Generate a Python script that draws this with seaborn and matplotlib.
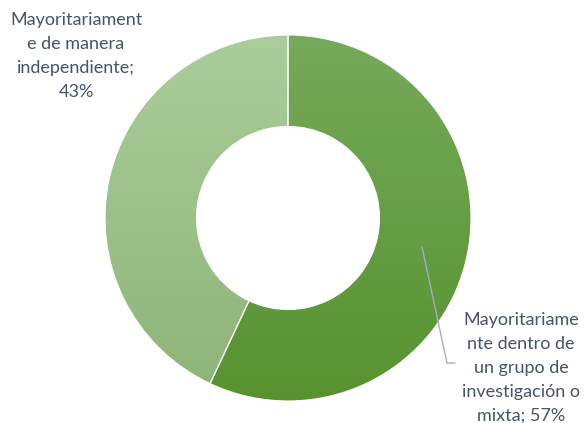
import numpy as np
import matplotlib
matplotlib.use("Agg")
import matplotlib.pyplot as plt
from matplotlib.colors import LinearSegmentedColormap
import seaborn as sns

categories = [
    "Mayoritariame\nnte dentro de\nun grupo de\ninvestigación o\nmixta",
    "Mayoritariament\ne de manera\nindependiente",
]
values = [57, 43]
top_colors = ["#75AA5A", "#ABCD9B"]
bottom_colors = ["#589230", "#8DB478"]

sns.set_theme(style="white")
plt.rcParams['font.family'] = ['Lato', 'DejaVu Sans']
text_color = "#44546A"

fig = plt.figure(figsize=(5.84, 4.23), dpi=100)
ax = fig.add_axes([105 / 584, 22 / 423, 366 / 584, 366 / 423])

wedges, _ = ax.pie(values, startangle=90, counterclock=False, radius=1,
                   wedgeprops=dict(width=0.5, edgecolor="white", linewidth=0.8))

# vertical gradient fill clipped to each wedge
grad = np.linspace(0, 1, 256).reshape(-1, 1)
for w, c_top, c_bot in zip(wedges, top_colors, bottom_colors):
    cmap = LinearSegmentedColormap.from_list("g", [c_top, c_bot])
    w.set_facecolor("none")
    img = ax.imshow(grad, cmap=cmap, extent=[-1, 1, -1, 1], origin="upper",
                    aspect="auto", zorder=w.get_zorder() - 0.1)
    img.set_clip_path(w)

ax.set_xlim(-1, 1)
ax.set_ylim(-1, 1)
ax.set_aspect("equal")
ax.axis("off")

fs = 13
fig.text(76 / 584, 1 - 56 / 423, f"{categories[1]};\n{values[1]}%", ha="center", va="center",
         fontsize=fs, color=text_color, linespacing=1.6)
fig.text(521 / 584, 1 - 368 / 423, f"{categories[0]}; {values[0]}%", ha="center", va="center",
         fontsize=fs, color=text_color, linespacing=1.6)

# leader line
fig.add_artist(plt.Line2D([422 / 584, 447 / 584, 455 / 584],
                          [1 - 247 / 423, 1 - 363 / 423, 1 - 363 / 423],
                          color="#A5AFBF", linewidth=1))

fig.savefig("out.png", dpi=100)
